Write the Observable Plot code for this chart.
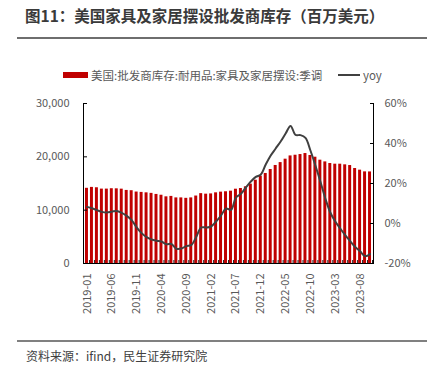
<!DOCTYPE html>
<html><head><meta charset="utf-8">
<script src="https://cdn.jsdelivr.net/npm/d3@7"></script>
<script src="https://cdn.jsdelivr.net/npm/@observablehq/plot@0.6"></script>
<style>
body{margin:0;width:427px;height:377px;position:relative;background:#fff;font-family:"Noto Sans CJK SC","Noto Sans",sans-serif;overflow:hidden}
#title{position:absolute;left:25px;top:4px;font-size:15.5px;font-weight:bold;color:#3a3a3a;white-space:nowrap;line-height:22px}
#tline{position:absolute;left:17px;width:410px;top:37px;height:2px;background:#6e6e6e}
#leg{position:absolute;left:0;top:66px;width:427px;height:18px;font-size:11.5px;color:#595959}
#leg .sw{position:absolute;left:63px;top:6px;width:25px;height:6px;background:#C00000}
#leg .t1{position:absolute;left:91px;top:0;line-height:18px;white-space:nowrap}
#leg .ln{position:absolute;left:338px;top:8px;width:22px;height:2px;background:#404040}
#leg .t2{position:absolute;left:363px;top:0;line-height:18px}
#fline{position:absolute;left:17px;width:410px;top:340px;height:1.5px;background:#808080}
#src{position:absolute;left:26px;top:347px;font-size:12px;color:#404040;line-height:18px;white-space:nowrap}
#chart{position:absolute;left:0;top:0}
</style></head>
<body>
<div id="chart"></div>
<div id="title">图11：美国家具及家居摆设批发商库存（百万美元）</div>
<div id="tline"></div>
<div id="leg"><div class="sw"></div><div class="t1">美国:批发商库存:耐用品:家具及家居摆设:季调</div><div class="ln"></div><div class="t2">yoy</div></div>
<div id="fline"></div>
<div id="src">资料来源：ifind，民生证券研究院</div>
<script>
const months = ["2019-01","2019-02","2019-03","2019-04","2019-05","2019-06","2019-07","2019-08","2019-09","2019-10","2019-11","2019-12",
"2020-01","2020-02","2020-03","2020-04","2020-05","2020-06","2020-07","2020-08","2020-09","2020-10","2020-11","2020-12",
"2021-01","2021-02","2021-03","2021-04","2021-05","2021-06","2021-07","2021-08","2021-09","2021-10","2021-11","2021-12",
"2022-01","2022-02","2022-03","2022-04","2022-05","2022-06","2022-07","2022-08","2022-09","2022-10","2022-11","2022-12",
"2023-01","2023-02","2023-03","2023-04","2023-05","2023-06","2023-07","2023-08","2023-09","2023-10"];
const inventory = [14100,14270,14200,13950,13950,14020,14000,13940,13700,13650,13400,13330,
13250,13150,12950,12800,12500,12580,12300,12300,12220,12300,12650,13100,
13000,13050,13250,13380,13450,13560,13930,14060,14380,14880,15620,16380,
16880,17620,18380,18920,19560,20170,20300,20430,20620,20250,19930,19370,
19050,18750,18620,18620,18500,18370,17810,17500,17180,17170];
const yoy = [8.3,7.6,6.7,5.8,5.5,5.9,6.3,5.3,3.8,1.7,-1.9,-4.8,
-6.8,-8.0,-8.6,-9.0,-10.4,-10.2,-12.6,-12.5,-11.3,-10.8,-6.7,-2.0,
-2.0,-1.5,1.0,4.0,7.5,6.8,13.0,14.8,18.0,21.0,23.3,24.5,
29.5,34.0,37.5,41.0,45.0,48.8,44.3,44.2,42.8,36.5,29.0,21.0,
12.5,5.5,1.0,-2.5,-5.8,-8.8,-11.7,-13.9,-16.3,-15.3];
const xTicks = ["2019-01","2019-06","2019-11","2020-04","2020-09","2021-02","2021-07","2021-12","2022-05","2022-10","2023-03","2023-08"];
const leftTicks = [0,10000,20000,30000];
const rightTicks = [-20,0,20,40,60];

const leftMax = 30000, rMin = -20, rMax = 60;
const toLeft = p => (p - rMin) / (rMax - rMin) * leftMax;
const data = months.map((m,i) => ({month:m, inv:inventory[i], yoy:yoy[i]}));
const font = '"Noto Sans CJK SC","Noto Sans",sans-serif';

const chart = Plot.plot({
  width: 427, height: 377,
  marginLeft: 83, marginRight: 54, marginTop: 103, marginBottom: 114,
  style: {fontFamily: font, fontSize: "11px", color: "#595959", background: "transparent"},
  x: {domain: months, padding: 0.4, label: null},
  y: {domain: [0, leftMax], label: null},
  marks: [
    Plot.barY(data, {x: "month", y: "inv", fill: "#C00000"}),
    Plot.ruleX(months, {x: d => d, y1: 0, y2: 560, dx: 2.5, stroke: "#222"}),
    Plot.line(data, {x: "month", y: d => toLeft(d.yoy), stroke: "#404040", strokeWidth: 2, curve: "catmull-rom"}),
    Plot.ruleY([0], {stroke: "#000"}),
    Plot.axisX({ticks: xTicks, tickRotate: -90, tickSize: 0, tickPadding: 10, label: null, fill: "#595959"}),
    Plot.axisY({anchor: "left", ticks: leftTicks, tickFormat: d3.format(","), tickSize: -4, tickPadding: 18, label: null, stroke: "#000", fill: "#595959"}),
    Plot.axisY({anchor: "right", ticks: rightTicks.map(toLeft), tickFormat: d => Math.round(d / leftMax * (rMax - rMin) + rMin) + "%", tickSize: -4, tickPadding: 15, label: null, stroke: "#000", fill: "#595959"}),
    Plot.frame({anchor: "left", stroke: "#000"}),
    Plot.frame({anchor: "right", stroke: "#000"})
  ]
});
document.getElementById("chart").appendChild(chart);
</script>
</body></html>
